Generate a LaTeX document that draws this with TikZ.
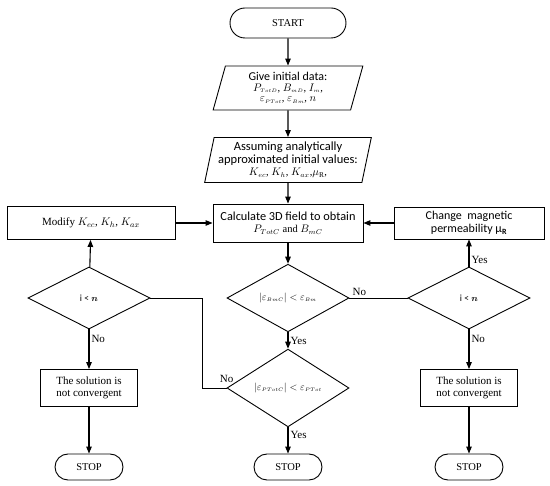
\documentclass[tikz,border=0pt]{standalone}
\usepackage{amsmath,amssymb}
\usepackage{fontspec}
\setmainfont{Liberation Serif}
\newfontfamily\calibfont{Carlito}
\usetikzlibrary{arrows.meta,positioning,shapes.geometric,shapes.misc}
\newcommand{\tinysub}[1]{_{\scriptscriptstyle #1}}
\tikzset{
  flow/.style={line width=1.1pt,-{Triangle[length=7pt,width=5.5pt]}},
  link/.style={line width=0.9pt},
  lbl/.style={font=\fontsize{11}{12}\selectfont,inner sep=2pt},
  terminal/.style={draw,line width=0.9pt,rounded rectangle,inner sep=1pt},
  process/.style={draw,line width=0.9pt,rectangle,inner sep=2pt,align=center},
  io/.style={draw,line width=0.9pt,trapezium,trapezium left angle=76,trapezium right angle=104,trapezium stretches=true,inner sep=0pt,align=center},
  decision/.style={draw,line width=0.9pt,diamond,inner sep=0pt,minimum width=122pt,minimum height=62pt}
}
\begin{document}
\begin{tikzpicture}[x=1pt,y=-1pt]
\useasboundingbox (0,0) rectangle (550,486);
% main column
\node[terminal,minimum width=118pt,minimum height=30pt,font=\fontsize{10.5}{12}\selectfont] (start) at (288,23) {START};
\node[io,minimum width=150pt,minimum height=44pt,font=\fontsize{10.5}{11.5}\selectfont] (init) at (288,88) {
{\calibfont\fontsize{12}{12}\selectfont Give initial data:}\\[-1pt]
$P\tinysub{TotD}$, $B\tinysub{mD}$, $I\tinysub{m}$,\\[-1pt]
$\varepsilon\tinysub{PTot}$, $\varepsilon\tinysub{Bm}$, $n$};
\node[io,minimum width=167pt,minimum height=45pt,font=\fontsize{10.5}{12.5}\selectfont] (assume) at (288,160) {
{\calibfont\fontsize{12.5}{12.5}\selectfont Assuming analytically}\\
{\calibfont\fontsize{12.5}{12.5}\selectfont approximated initial values:}\\
$K_{ec}$, $K_{h}$, $K_{ax}$,$\mu_{\mathrm{R}}$,};
\node[process,minimum width=150pt,minimum height=38pt,font=\fontsize{10.5}{12.5}\selectfont] (calc) at (288,223) {
{\calibfont\fontsize{12.3}{12.5}\selectfont Calculate 3D field to obtain}\\
$P_{TotC}$ and $B_{mC}$};
\node[decision,font=\fontsize{10}{11}\selectfont] (chkB) at (288,298) {$\left|\varepsilon\tinysub{BmC}\right| < \varepsilon\tinysub{Bm}$};
\node[decision,font=\fontsize{10}{11}\selectfont] (chkP) at (288,388) {$\left|\varepsilon\tinysub{PTotC}\right| < \varepsilon\tinysub{PTot}$};
\node[terminal,minimum width=70pt,minimum height=26pt,font=\fontsize{10.5}{12}\selectfont] (stopM) at (288,467) {STOP};
% left column
\node[process,minimum width=168pt,minimum height=33pt,font=\fontsize{11}{12}\selectfont] (modify) at (91,223) {Modify $K_{ec}$, $K_{h}$, $K_{ax}$};
\node[decision,font=\fontsize{9.5}{10}\selectfont] (iterL) at (89,298) {{\calibfont i <} $\boldsymbol{n}$};
\node[process,minimum width=97pt,minimum height=37pt,font=\fontsize{11}{12.5}\selectfont] (failL) at (89,388) {The solution is\\not convergent};
\node[terminal,minimum width=70pt,minimum height=26pt,font=\fontsize{10.5}{12}\selectfont] (stopL) at (89,467) {STOP};
% right column
\node[process,minimum width=150pt,minimum height=32pt,font=\calibfont\fontsize{12}{13}\selectfont] (change) at (469,223) {
Change\ \ magnetic\\
permeability μ\textsubscript{\textbf{R}}};
\node[decision,font=\fontsize{9.5}{10}\selectfont] (iterR) at (469,298) {{\calibfont i <} $\boldsymbol{n}$};
\node[process,minimum width=97pt,minimum height=37pt,font=\fontsize{11}{12.5}\selectfont] (failR) at (469,388) {The solution is\\not convergent};
\node[terminal,minimum width=70pt,minimum height=26pt,font=\fontsize{10.5}{12}\selectfont] (stopR) at (469,467) {STOP};
\coordinate (jog) at (202,298);
% connectors
\draw[flow] (start) -- (init);
\draw[flow] (init) -- (assume);
\draw[flow] (assume) -- (calc);
\draw[flow] (calc) -- (chkB);
\draw[flow] (chkB) -- node[right,lbl]{Yes} (chkP);
\draw[flow] (chkP) -- node[right,lbl,pos=0.3]{Yes} (stopM);
\draw[flow] (modify) -- (calc);
\draw[flow] (change) -- (calc);
\draw[link] (chkB.east) -- node[above,lbl,pos=0.17]{No} (iterR.west);
\draw[flow] (iterR) -- node[right,lbl,pos=0.25]{Yes} (change);
\draw[flow] (iterR) -- node[right,lbl,pos=0.25]{No} (failR);
\draw[flow] (failR) -- (stopR);
\draw[flow] (iterL) -- (modify);
\draw[flow] (iterL) -- node[right,lbl,pos=0.25]{No} (failL);
\draw[flow] (failL) -- (stopL);
\draw[link] (chkP.west) -| node[above,lbl,pos=0,yshift=3pt]{No} (jog) -- (iterL.east);
\end{tikzpicture}
\end{document}
